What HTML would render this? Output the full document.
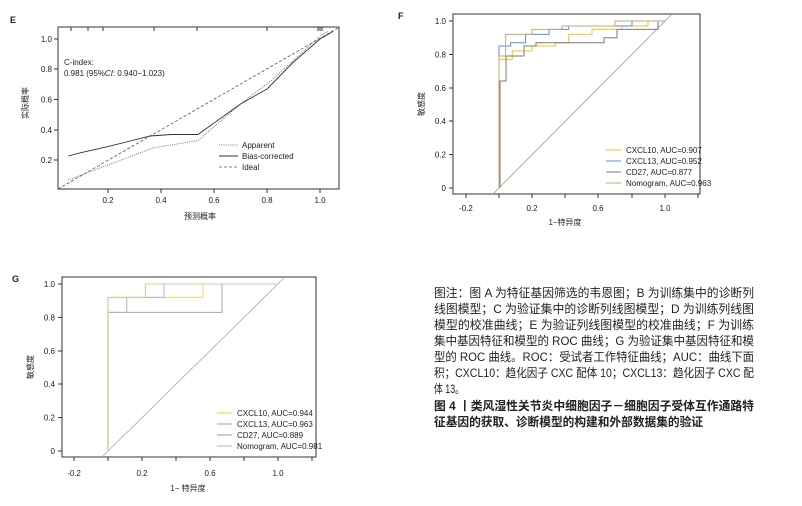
<!DOCTYPE html>
<html><head><meta charset="utf-8"><style>
body{margin:0;background:#fff;}
svg{display:block;font-family:"Liberation Sans","Noto Sans CJK SC",sans-serif;}
.t{font-size:8px;fill:#222;}
.c{font-size:12px;fill:#222;font-family:"Liberation Sans","Noto Sans CJK SC",sans-serif;}
</style></head><body>
<svg width="802" height="506" viewBox="0 0 802 506" xmlns="http://www.w3.org/2000/svg">
<rect width="802" height="506" fill="#fff"/>
<!-- Panel E -->
<text x="10" y="23" font-size="9" font-weight="bold" fill="#222">E</text>
<rect x="58" y="27" width="281" height="162" fill="none" stroke="#333" stroke-width="1"/>
<g stroke="#333" stroke-width="1">
<line x1="54" y1="39" x2="58" y2="39"/><line x1="54" y1="69" x2="58" y2="69"/><line x1="54" y1="99.5" x2="58" y2="99.5"/><line x1="54" y1="130" x2="58" y2="130"/><line x1="54" y1="160" x2="58" y2="160"/>
<line x1="108" y1="189" x2="108" y2="193"/><line x1="161" y1="189" x2="161" y2="193"/><line x1="214" y1="189" x2="214" y2="193"/><line x1="267" y1="189" x2="267" y2="193"/><line x1="320" y1="189" x2="320" y2="193"/>
<line x1="71" y1="27" x2="71" y2="31"/><line x1="88" y1="27" x2="88" y2="31"/><line x1="103" y1="27" x2="103" y2="31"/><line x1="154" y1="27" x2="154" y2="31"/><line x1="197" y1="27" x2="197" y2="31"/><line x1="267" y1="27" x2="267" y2="31"/><line x1="318" y1="27" x2="318" y2="31"/><line x1="320" y1="27" x2="320" y2="31"/><line x1="322" y1="27" x2="322" y2="31"/>
</g>
<g class="t" text-anchor="end"><text x="52" y="42">1.0</text><text x="52" y="72">0.8</text><text x="52" y="102.5">0.6</text><text x="52" y="133">0.4</text><text x="52" y="163">0.2</text></g>
<g class="t" text-anchor="middle"><text x="108" y="203">0.2</text><text x="161" y="203">0.4</text><text x="214" y="203">0.6</text><text x="267" y="203">0.8</text><text x="320" y="203">1.0</text></g>
<text x="200" y="219" class="t" text-anchor="middle">预测概率</text>
<text transform="translate(28,103) rotate(-90)" class="t" text-anchor="middle">实际概率</text>
<text x="64" y="65" class="t">C-index:</text>
<text x="64" y="76" class="t">0.981 (95%<tspan font-style="italic">CI</tspan>: 0.940−1.023)</text>
<line x1="58" y1="189" x2="338" y2="28" stroke="#555" stroke-width="0.8" stroke-dasharray="3,2"/>
<polyline points="68,180 100,168 153,148 198,140.5 240.5,104 272,80 320,36 328,31.5" fill="none" stroke="#555" stroke-width="0.8" stroke-dasharray="1,1.2"/>
<polyline points="68,156 81.5,152.6 108,146.6 150,136 171.6,134.5 198,134.5 240.5,104 267,89 293.5,62 320,39 333,31.5" fill="none" stroke="#333" stroke-width="0.9"/>
<line x1="219" y1="145" x2="238" y2="145" stroke="#555" stroke-width="0.8" stroke-dasharray="1,1.2"/>
<line x1="219" y1="156" x2="238" y2="156" stroke="#333" stroke-width="0.9"/>
<line x1="219" y1="167" x2="238" y2="167" stroke="#555" stroke-width="0.8" stroke-dasharray="3,2"/>
<text x="242" y="148" class="t">Apparent</text><text x="242" y="159" class="t">Bias-corrected</text><text x="242" y="170" class="t">Ideal</text>

<!-- Panel F -->
<text x="398" y="19" font-size="9" font-weight="bold" fill="#222">F</text>
<rect x="453" y="14" width="247" height="180" fill="none" stroke="#333" stroke-width="1"/>
<g stroke="#333" stroke-width="1">
<line x1="449" y1="21" x2="453" y2="21"/><line x1="449" y1="54.4" x2="453" y2="54.4"/><line x1="449" y1="88" x2="453" y2="88"/><line x1="449" y1="121" x2="453" y2="121"/><line x1="449" y1="154.6" x2="453" y2="154.6"/><line x1="449" y1="188" x2="453" y2="188"/>
<line x1="466" y1="194" x2="466" y2="198"/><line x1="499" y1="194" x2="499" y2="198"/><line x1="532" y1="194" x2="532" y2="198"/><line x1="565" y1="194" x2="565" y2="198"/><line x1="598" y1="194" x2="598" y2="198"/><line x1="632" y1="194" x2="632" y2="198"/><line x1="665" y1="194" x2="665" y2="198"/><line x1="698" y1="194" x2="698" y2="198"/>
</g>
<g class="t" text-anchor="end"><text x="446" y="24">1.0</text><text x="446" y="57.4">0.8</text><text x="446" y="91">0.6</text><text x="446" y="124">0.4</text><text x="446" y="157.6">0.2</text><text x="446" y="191">0</text></g>
<g class="t" text-anchor="middle"><text x="466" y="211">-0.2</text><text x="532" y="211">0.2</text><text x="598" y="211">0.6</text><text x="665" y="211">1.0</text></g>
<text x="565" y="225" class="t" text-anchor="middle">1−特异度</text>
<text transform="translate(424,104) rotate(-90)" class="t" text-anchor="middle">敏感度</text>
<line x1="493" y1="194" x2="672" y2="14" stroke="#999" stroke-width="0.8"/>
<g fill="none" stroke-width="1">
<path d="M499,188 V59.4 H512.3 V51 H532 V46 H555.4 V42.7 H568.7 V34.4 H592 V29.4 H622 V26 H648 V21 H665" stroke="#f5c518"/>
<path d="M499,188 V46 H510.6 V42.7 H525.6 V34.4 H549 V29.4 H568.7 V26 H632 V21 H665" stroke="#5b8fd9"/>
<path d="M500,188 V81 H506 V56 H524 V46 H536 V42.7 H604 V37.7 H617 V29.4 H658 V21 H665" stroke="#7a7a7a"/>
<path d="M499,188 V56 H505.6 V34.4 H532 V29.4 H562 V26 H615 V21 H665" stroke="#c9a77a"/>
</g>
<line x1="606" y1="150" x2="621" y2="150" stroke="#f5c518"/><line x1="606" y1="161" x2="621" y2="161" stroke="#5b8fd9"/><line x1="606" y1="172" x2="621" y2="172" stroke="#7a7a7a"/><line x1="606" y1="183" x2="621" y2="183" stroke="#c9a77a"/>
<g class="t"><text x="626" y="153">CXCL10, AUC=0.907</text><text x="626" y="164">CXCL13, AUC=0.952</text><text x="626" y="175">CD27, AUC=0.877</text><text x="626" y="186">Nomogram, AUC=0.963</text></g>

<!-- Panel G -->
<text x="12" y="282" font-size="9" font-weight="bold" fill="#222">G</text>
<rect x="62" y="277" width="254" height="180" fill="none" stroke="#333" stroke-width="1"/>
<g stroke="#333" stroke-width="1">
<line x1="58" y1="284" x2="62" y2="284"/><line x1="58" y1="317.4" x2="62" y2="317.4"/><line x1="58" y1="351" x2="62" y2="351"/><line x1="58" y1="384" x2="62" y2="384"/><line x1="58" y1="417.6" x2="62" y2="417.6"/><line x1="58" y1="451" x2="62" y2="451"/>
<line x1="74" y1="457" x2="74" y2="461"/><line x1="108" y1="457" x2="108" y2="461"/><line x1="142" y1="457" x2="142" y2="461"/><line x1="176" y1="457" x2="176" y2="461"/><line x1="210" y1="457" x2="210" y2="461"/><line x1="244" y1="457" x2="244" y2="461"/><line x1="278" y1="457" x2="278" y2="461"/><line x1="312" y1="457" x2="312" y2="461"/>
</g>
<g class="t" text-anchor="end"><text x="55" y="287">1.0</text><text x="55" y="320.4">0.8</text><text x="55" y="354">0.6</text><text x="55" y="387">0.4</text><text x="55" y="420.6">0.2</text><text x="55" y="454">0</text></g>
<g class="t" text-anchor="middle"><text x="74" y="476">-0.2</text><text x="142" y="476">0.2</text><text x="210" y="476">0.6</text><text x="278" y="476">1.0</text></g>
<text x="188" y="491" class="t" text-anchor="middle">1− 特异度</text>
<text transform="translate(33,367) rotate(-90)" class="t" text-anchor="middle">敏感度</text>
<line x1="102" y1="457" x2="285" y2="277" stroke="#aaa" stroke-width="0.8"/>
<g fill="none" stroke-width="1.1">
<path d="M108,451 V297.4 H203 V284 H278" stroke="#fbd96a"/>
<path d="M108,451 V312.4 H126.7 V297.4 H164 V284 H278" stroke="#9fbde8"/>
<path d="M108,451 V312.4 H222 V284 H278" stroke="#b0b0b0"/>
<path d="M108,451 V297.4 H145.4 V284 H278" stroke="#dcc3a0"/>
</g>
<line x1="217" y1="413" x2="232" y2="413" stroke="#fbd96a" stroke-width="1.3"/><line x1="217" y1="424" x2="232" y2="424" stroke="#9fbde8" stroke-width="1.3"/><line x1="217" y1="435" x2="232" y2="435" stroke="#b0b0b0" stroke-width="1.3"/><line x1="217" y1="446" x2="232" y2="446" stroke="#dcc3a0" stroke-width="1.3"/>
<g class="t"><text x="237" y="416">CXCL10, AUC=0.944</text><text x="237" y="427">CXCL13, AUC=0.963</text><text x="237" y="438">CD27, AUC=0.889</text><text x="237" y="449">Nomogram, AUC=0.981</text></g>

<!-- Caption -->
<g class="c">
<text x="434" y="297" textLength="320" lengthAdjust="spacingAndGlyphs">图注：图 A 为特征基因筛选的韦恩图；B 为训练集中的诊断列</text>
<text x="434" y="313" textLength="320" lengthAdjust="spacingAndGlyphs">线图模型；C 为验证集中的诊断列线图模型；D 为训练列线图</text>
<text x="434" y="329" textLength="320" lengthAdjust="spacingAndGlyphs">模型的校准曲线；E 为验证列线图模型的校准曲线；F 为训练</text>
<text x="434" y="345" textLength="320" lengthAdjust="spacingAndGlyphs">集中基因特征和模型的 ROC 曲线；G 为验证集中基因特征和模</text>
<text x="434" y="361" textLength="320" lengthAdjust="spacingAndGlyphs">型的 ROC 曲线。ROC：受试者工作特征曲线；AUC：曲线下面</text>
<text x="434" y="377" textLength="320" lengthAdjust="spacingAndGlyphs">积；CXCL10：趋化因子 CXC 配体 10；CXCL13：趋化因子 CXC 配</text>
<text x="434" y="393" textLength="30" lengthAdjust="spacingAndGlyphs">体 13。</text>
<text x="434" y="410" textLength="320" lengthAdjust="spacingAndGlyphs" font-weight="bold">图 4 丨类风湿性关节炎中细胞因子－细胞因子受体互作通路特</text>
<text x="434" y="426" textLength="269" lengthAdjust="spacingAndGlyphs" font-weight="bold">征基因的获取、诊断模型的构建和外部数据集的验证</text>
</g>
</svg>
</body></html>
